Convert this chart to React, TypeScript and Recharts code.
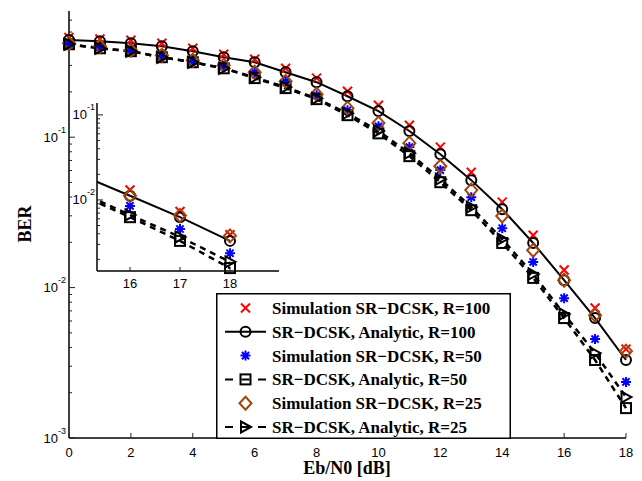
import React from 'react';
import { LineChart, Line, XAxis, YAxis, Legend, CartesianGrid } from 'recharts';

// ---------------- data ----------------
const snr = [0, 1, 2, 3, 4, 5, 6, 7, 8, 9, 10, 11, 12, 13, 14, 15, 16, 17, 18];
const simR100 = [0.46, 0.45, 0.441, 0.421, 0.39, 0.356, 0.33, 0.287, 0.247, 0.202, 0.163, 0.12, 0.0859, 0.0585, 0.037, 0.0223, 0.0131, 0.00731, 0.0039];
const anaR100 = [0.442, 0.434, 0.421, 0.402, 0.373, 0.34, 0.315, 0.27, 0.232, 0.187, 0.149, 0.11, 0.0771, 0.0518, 0.0332, 0.0198, 0.0112, 0.00627, 0.0033];
const simR50 = [0.415, 0.396, 0.373, 0.345, 0.32, 0.296, 0.27, 0.235, 0.19, 0.151, 0.118, 0.0859, 0.0604, 0.0399, 0.0248, 0.0148, 0.00851, 0.00455, 0.00236];
const anaR50 = [0.415, 0.39, 0.373, 0.34, 0.315, 0.287, 0.247, 0.212, 0.179, 0.14, 0.106, 0.0748, 0.0502, 0.0327, 0.0198, 0.0116, 0.00627, 0.0033, 0.00158];
const simR25 = [0.421, 0.402, 0.378, 0.351, 0.325, 0.301, 0.27, 0.235, 0.193, 0.156, 0.124, 0.0912, 0.0641, 0.0445, 0.0299, 0.0177, 0.0112, 0.00656, 0.00378];
const anaR25 = [0.415, 0.39, 0.373, 0.34, 0.315, 0.287, 0.25, 0.215, 0.181, 0.144, 0.11, 0.0783, 0.0526, 0.0343, 0.021, 0.0123, 0.00667, 0.00367, 0.00187];

const xTicksMain = [0, 2, 4, 6, 8, 10, 12, 14, 16, 18];
const yMajorMain = [0.001, 0.01, 0.1];
const yMajorMainLabels = ['-3', '-2', '-1'];
const yMinorMain = [0.002, 0.003, 0.004, 0.005, 0.006, 0.007, 0.008, 0.009, 0.02, 0.03, 0.04, 0.05, 0.06, 0.07, 0.08, 0.09, 0.2, 0.3, 0.4, 0.5, 0.6];

const insetLineX = [15, 16, 17, 18];
const insetMarkX = [16, 17, 18];
const xTicksInset = [16, 17, 18];
const yMajorInset = [0.01, 0.1];
const yMajorInsetLabels = ['-2', '-1'];
const yMinorInset = [0.002, 0.003, 0.004, 0.005, 0.006, 0.007, 0.008, 0.009, 0.02, 0.03, 0.04, 0.05, 0.06, 0.07, 0.08, 0.09];

const legendLabels = [
  'Simulation SR\u2212DCSK, R=100',
  'SR\u2212DCSK, Analytic, R=100',
  'Simulation SR\u2212DCSK, R=50',
  'SR\u2212DCSK, Analytic, R=50',
  'Simulation SR\u2212DCSK, R=25',
  'SR\u2212DCSK, Analytic, R=25',
];

// ---------------- tables ----------------
const rows = snr.map((x, i) => ({
  x,
  simR100: simR100[i],
  anaR100: anaR100[i],
  simR50: simR50[i],
  anaR50: anaR50[i],
  simR25: simR25[i],
  anaR25: anaR25[i],
}));
const insetLineRows = rows.filter((r) => insetLineX.includes(r.x));
const insetMarkRows = rows.filter((r) => insetMarkX.includes(r.x));

// ---------------- styling ----------------
const FONT = '"Liberation Sans", Arial, Helvetica, sans-serif';
const SERIF = '"Liberation Serif", "Times New Roman", serif';
const RED = '#ff0000';
const BLUE = '#0000ff';
const BROWN = '#a0460f';
const axisStyle = { stroke: '#000', strokeWidth: 1.5 };

const series = [
  { key: 'simR100', shape: 'x', line: 'none' },
  { key: 'anaR100', shape: 'o', line: 'solid' },
  { key: 'simR50', shape: '*', line: 'none' },
  { key: 'anaR50', shape: 's', line: 'dash' },
  { key: 'simR25', shape: 'd', line: 'none' },
  { key: 'anaR25', shape: '>', line: 'dash' },
];

function Marker({ shape, cx, cy }: { shape: string; cx: number; cy: number }) {
  switch (shape) {
    case 'x': {
      const s = 4.5;
      return (
        <path
          d={`M${cx - s},${cy - s}L${cx + s},${cy + s}M${cx - s},${cy + s}L${cx + s},${cy - s}`}
          stroke={RED}
          strokeWidth={2}
          fill="none"
        />
      );
    }
    case 'o':
      return <circle cx={cx} cy={cy} r={5} stroke="#000" strokeWidth={2} fill="none" />;
    case '*': {
      const s = 5;
      const d = 3.6;
      return (
        <path
          d={`M${cx - s},${cy}L${cx + s},${cy}M${cx},${cy - s}L${cx},${cy + s}M${cx - d},${cy - d}L${cx + d},${cy + d}M${cx - d},${cy + d}L${cx + d},${cy - d}`}
          stroke={BLUE}
          strokeWidth={2}
          fill="none"
        />
      );
    }
    case 's':
      return <rect x={cx - 5} y={cy - 5} width={10} height={10} stroke="#000" strokeWidth={2} fill="none" />;
    case 'd':
      return (
        <polygon
          points={`${cx},${cy - 6.5} ${cx + 6},${cy} ${cx},${cy + 6.5} ${cx - 6},${cy}`}
          stroke={BROWN}
          strokeWidth={2}
          fill="none"
        />
      );
    case '>':
      return (
        <polygon
          points={`${cx + 5.5},${cy} ${cx - 4.5},${cy - 5.5} ${cx - 4.5},${cy + 5.5}`}
          stroke="#000"
          strokeWidth={2}
          fill="none"
        />
      );
    default:
      return null;
  }
}

const makeDot = (shape: string) => (p: any) => {
  const { cx, cy, index } = p;
  if (cx == null || cy == null || isNaN(cx) || isNaN(cy)) return <g key={`${shape}-${index}`} />;
  return (
    <g key={`${shape}-${index}`}>
      <Marker shape={shape} cx={cx} cy={cy} />
    </g>
  );
};

// ---------------- ticks ----------------
const findMajor = (arr: number[], v: number) => arr.findIndex((m) => Math.abs(m - v) / m < 1e-6);

const makeBottomTick = (len: number, off: number) => (p: any) => {
  const { x, y, payload, index } = p;
  return (
    <g key={`b-${index}`}>
      <line x1={x} x2={x} y1={y} y2={y - len} stroke="#222" strokeWidth={1} />
      <text x={x} y={y + off} dy="0.35em" textAnchor="middle" fontFamily={FONT} fontSize={13} fill="#000">
        {payload.value}
      </text>
    </g>
  );
};
const makeTopTick = (len: number) => (p: any) => {
  const { x, y, index } = p;
  return <line key={`t-${index}`} x1={x} x2={x} y1={y} y2={y + len} stroke="#222" strokeWidth={1} />;
};
const makeLeftTick = (majors: number[], labels: string[], gap: number) => (p: any) => {
  const { x, y, payload, index } = p;
  const i = findMajor(majors, payload.value);
  const major = i >= 0;
  return (
    <g key={`l-${index}`}>
      <line x1={x} x2={x + (major ? 6 : 3)} y1={y} y2={y} stroke="#222" strokeWidth={1} />
      {major && (
        <text x={x - gap} y={y} textAnchor="end" fontFamily={FONT} fontSize={13} fill="#000">
          <tspan dy="0.35em">10</tspan>
          <tspan dy="-1em" fontSize={9}>
            {labels[i]}
          </tspan>
        </text>
      )}
    </g>
  );
};
const makeRightTick = (majors: number[]) => (p: any) => {
  const { x, y, payload, index } = p;
  const major = findMajor(majors, payload.value) >= 0;
  return <line key={`r-${index}`} x1={x} x2={x - (major ? 6 : 3)} y1={y} y2={y} stroke="#222" strokeWidth={1} />;
};

const yTicksMain = [...yMajorMain, ...yMinorMain].sort((a, b) => a - b);
const yTicksInset = [...yMajorInset, ...yMinorInset].sort((a, b) => a - b);

// ---------------- legend ----------------
function LegendBox() {
  return (
    <svg width={295} height={146} style={{ display: 'block', overflow: 'visible' }}>
      <rect x={0.75} y={0.75} width={293.5} height={144.5} fill="#fff" stroke="#000" strokeWidth={1.5} />
      {legendLabels.map((lab, i) => {
        const cy = 15 + i * 23.8;
        const st = series[i];
        return (
          <g key={i}>
            {st.line !== 'none' && (
              <line
                x1={9}
                x2={50}
                y1={cy}
                y2={cy}
                stroke="#000"
                strokeWidth={2}
                strokeDasharray={st.line === 'dash' ? '8 8.5 8 8.5 8 100' : undefined}
              />
            )}
            <Marker shape={st.shape} cx={29.5} cy={cy} />
            <text x={56} y={cy} dy="0.35em" fontFamily={SERIF} fontWeight="bold" fontSize={17} fill="#000">
              {lab}
            </text>
          </g>
        );
      })}
    </svg>
  );
}

const lineProps = (line: string) =>
  line === 'none'
    ? { stroke: 'none' }
    : line === 'solid'
    ? { stroke: '#000', strokeWidth: 2 }
    : { stroke: '#000', strokeWidth: 2.5, strokeDasharray: '6 5' };

export default function App() {
  return (
    <div style={{ position: 'absolute', left: 0, top: 0, width: 642, height: 481, background: '#fff' }}>
      <LineChart width={642} height={481} data={rows} margin={{ top: 11, right: 16, bottom: 13, left: 0 }}>
        <XAxis
          xAxisId="b"
          dataKey="x"
          type="number"
          domain={[0, 18]}
          ticks={xTicksMain}
          interval={0}
          tickSize={0}
          tickMargin={0}
          height={30}
          axisLine={axisStyle}
          tick={makeBottomTick(5, 14)}
        />
        <XAxis
          xAxisId="t"
          orientation="top"
          dataKey="x"
          type="number"
          domain={[0, 18]}
          ticks={xTicksMain}
          interval={0}
          tickSize={0}
          tickMargin={0}
          height={0}
          axisLine={axisStyle}
          tick={makeTopTick(5)}
        />
        <YAxis
          yAxisId="l"
          type="number"
          scale="log"
          domain={[0.001, 0.69]}
          ticks={yTicksMain}
          interval={0}
          tickSize={0}
          tickMargin={0}
          width={69}
          axisLine={axisStyle}
          tick={makeLeftTick(yMajorMain, yMajorMainLabels, 3)}
        />
        <YAxis
          yAxisId="r"
          orientation="right"
          type="number"
          scale="log"
          domain={[0.001, 0.69]}
          ticks={yTicksMain}
          interval={0}
          tickSize={0}
          tickMargin={0}
          width={0}
          axisLine={axisStyle}
          tick={makeRightTick(yMajorMain)}
        />
        {series.map((s) => (
          <Line
            key={s.key}
            xAxisId="b"
            yAxisId="l"
            dataKey={s.key}
            type="linear"
            {...lineProps(s.line)}
            dot={makeDot(s.shape)}
            activeDot={false}
            isAnimationActive={false}
          />
        ))}
        <Legend
          layout="vertical"
          align="center"
          verticalAlign="middle"
          content={<LegendBox />}
          wrapperStyle={{ left: 216, top: 293, width: 295, height: 146 }}
        />
      </LineChart>

      {/* inset */}
      <div style={{ position: 'absolute', left: 62, top: 98 }}>
        <LineChart width={222} height={198} data={insetLineRows} margin={{ top: 5, right: 5, bottom: 0, left: 0 }}>
          <CartesianGrid xAxisId="b" yAxisId="l" horizontal={false} vertical={false} fill="#fff" fillOpacity={1} />
          <XAxis
            xAxisId="b"
            dataKey="x"
            type="number"
            domain={[15.34, 18.98]}
            allowDataOverflow
            ticks={xTicksInset}
            interval={0}
            tickSize={0}
            tickMargin={0}
            height={25}
            axisLine={axisStyle}
            tick={makeBottomTick(4, 12)}
          />
          <XAxis
            xAxisId="t"
            orientation="top"
            dataKey="x"
            type="number"
            domain={[15.34, 18.98]}
            allowDataOverflow
            ticks={xTicksInset}
            interval={0}
            tickSize={0}
            tickMargin={0}
            height={0}
            axisLine={axisStyle}
            tick={makeTopTick(4)}
          />
          <XAxis xAxisId="m" dataKey="x" type="number" domain={[15.34, 18.98]} hide height={0} />
          <YAxis
            yAxisId="l"
            type="number"
            scale="log"
            domain={[0.00146, 0.138]}
            allowDataOverflow
            ticks={yTicksInset}
            interval={0}
            tickSize={0}
            tickMargin={0}
            width={35}
            axisLine={axisStyle}
            tick={makeLeftTick(yMajorInset, yMajorInsetLabels, 2)}
          />
          <YAxis
            yAxisId="r"
            orientation="right"
            type="number"
            scale="log"
            domain={[0.00146, 0.138]}
            allowDataOverflow
            ticks={yTicksInset}
            interval={0}
            tickSize={0}
            tickMargin={0}
            width={0}
            axisLine={axisStyle}
            tick={makeRightTick(yMajorInset)}
          />
          <YAxis yAxisId="m" type="number" scale="log" domain={[0.00146, 0.138]} hide width={0} />
          {series
            .filter((s) => s.line !== 'none')
            .map((s) => (
              <Line
                key={`il-${s.key}`}
                xAxisId="b"
                yAxisId="l"
                dataKey={s.key}
                type="linear"
                {...lineProps(s.line)}
                dot={false}
                activeDot={false}
                isAnimationActive={false}
              />
            ))}
          {series.map((s) => (
            <Line
              key={`im-${s.key}`}
              xAxisId="m"
              yAxisId="m"
              data={insetMarkRows}
              dataKey={s.key}
              type="linear"
              stroke="none"
              dot={makeDot(s.shape)}
              activeDot={false}
              isAnimationActive={false}
            />
          ))}
        </LineChart>
      </div>

      {/* axis titles */}
      <div
        style={{
          position: 'absolute',
          left: 25,
          top: 224,
          transform: 'translate(-50%, -50%) rotate(-90deg)',
          fontFamily: SERIF,
          fontWeight: 'bold',
          fontSize: 18,
          whiteSpace: 'nowrap',
          lineHeight: 1,
        }}
      >
        BER
      </div>
      <div
        style={{
          position: 'absolute',
          left: 347,
          top: 468,
          transform: 'translate(-50%, -50%)',
          fontFamily: SERIF,
          fontWeight: 'bold',
          fontSize: 18,
          whiteSpace: 'nowrap',
          lineHeight: 1,
        }}
      >
        Eb/N0 [dB]
      </div>
    </div>
  );
}
